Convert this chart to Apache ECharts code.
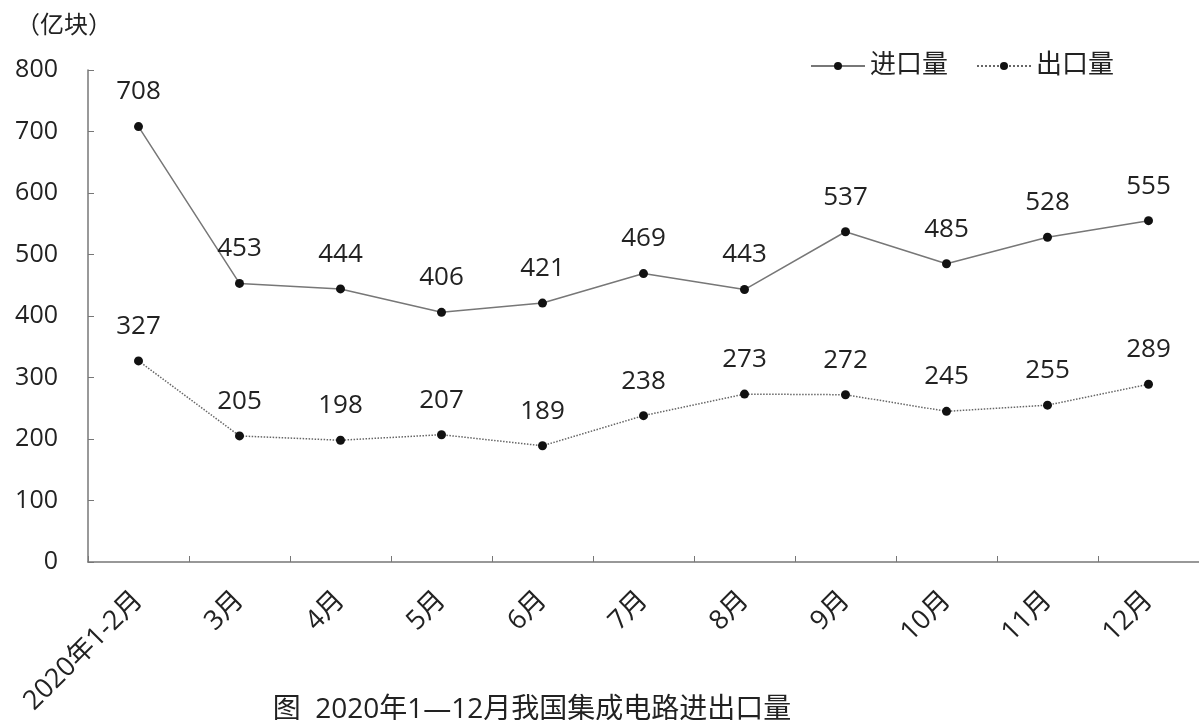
<!DOCTYPE html>
<html>
<head>
<meta charset="utf-8">
<script src="https://cdn.jsdelivr.net/npm/echarts@6/dist/echarts.min.js"></script>
<style>html,body{margin:0;padding:0;background:#fff;}#c{width:1199px;height:720px;}</style>
</head>
<body>
<div id="c"></div>
<script>
const categories = ['2020年1-2月','3月','4月','5月','6月','7月','8月','9月','10月','11月','12月'];
const importValues = [708,453,444,406,421,469,443,537,485,528,555];
const exportValues = [327,205,198,207,189,238,273,272,245,255,289];
const yTicks = [0,100,200,300,400,500,600,700,800];

const FONT = '"Open Sans","Noto Sans CJK SC",sans-serif';
const chart = echarts.init(document.getElementById('c'));
chart.setOption({
  backgroundColor: '#fff',
  animation: false,
  textStyle: {fontFamily: FONT, color: '#222'},
  title: {
    text: '图  2020年1—12月我国集成电路进出口量',
    left: 527, top: 691, textAlign: 'center',
    textStyle: {fontFamily: FONT, fontSize: 28, fontWeight: 'normal', color: '#222'}
  },
  graphic: [{
    type: 'text', left: 16, top: 14,
    style: {text: '（亿块）', fontFamily: FONT, fontSize: 24, fill: '#222'}
  }],
  legend: {
    right: 80, top: 48,
    itemWidth: 54, itemHeight: 10, itemGap: 28,
    textStyle: {fontFamily: FONT, fontSize: 26, color: '#222'},
    data: ['进口量','出口量']
  },
  grid: {left: 88, right: 0, top: 70, bottom: 158, containLabel: false},
  xAxis: {
    type: 'category', data: categories, boundaryGap: true,
    axisLine: {lineStyle: {color: '#777', width: 1.5}},
    axisTick: {show: true, inside: true, length: 6, lineStyle: {color: '#777'}},
    axisLabel: {rotate: 45, fontSize: 27, color: '#222', margin: 34, fontFamily: FONT, interval: 0},
    splitLine: {show: false}
  },
  yAxis: {
    type: 'value', min: yTicks[0], max: yTicks[yTicks.length-1], interval: 100,
    axisLine: {show: true, lineStyle: {color: '#777', width: 1.5}},
    axisTick: {show: true, inside: true, length: 6, lineStyle: {color: '#777'}},
    axisLabel: {fontSize: 25, color: '#222', margin: 30, fontFamily: FONT},
    splitLine: {show: false}
  },
  series: [
    {
      name: '进口量', type: 'line', data: importValues,
      symbol: 'circle', symbolSize: 9,
      itemStyle: {color: '#111'},
      lineStyle: {color: '#777', width: 1.5, type: 'solid'},
      label: {show: true, position: 'top', distance: 17, fontSize: 26, color: '#222', fontFamily: FONT}
    },
    {
      name: '出口量', type: 'line', data: exportValues,
      symbol: 'circle', symbolSize: 9,
      itemStyle: {color: '#111'},
      lineStyle: {color: '#666', width: 1.5, type: 'dotted'},
      label: {show: true, position: 'top', distance: 17, fontSize: 26, color: '#222', fontFamily: FONT}
    }
  ]
});
</script>
</body>
</html>
